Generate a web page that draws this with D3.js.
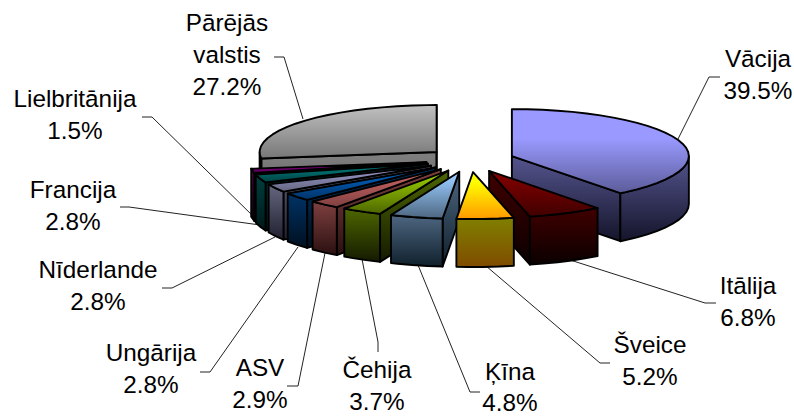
<!DOCTYPE html>
<html>
<head>
<meta charset="utf-8">
<script src="https://cdn.jsdelivr.net/npm/d3@7"></script>
<style>
  html, body { margin: 0; padding: 0; background: #fff; }
  svg { display: block; }
  text { font-family: "Liberation Sans", Arial, sans-serif; font-size: 24.3px; fill: #000; }
</style>
</head>
<body>
<div id="chart"></div>
<script>
var countries = ["Vācija", "Itālija", "Šveice", "Ķīna", "Čehija", "ASV", "Ungārija", "Nīderlande", "Francija", "Lielbritānija", "Pārējās valstis"];
var shares = [39.5, 6.8, 5.2, 4.8, 3.7, 2.9, 2.8, 2.8, 2.8, 1.5, 27.2];

// face colours: top face light -> dark, then side light -> dark
var topLight  = ["#9999ff", "#800000", "#ffff00", "#99ccff", "#99cc00", "#cc6666", "#0066cc", "#9999cc", "#008080", "#990099", "#bdbdbd"];
var topDark   = ["#5c5c99", "#400000", "#ff9900", "#4d6680", "#4d6600", "#804040", "#003366", "#666680", "#004040", "#4d004d", "#777777"];
var topHold   = [0.35, 0.1, 0.2, 0.1, 0.1, 0.1, 0.1, 0.1, 0.1, 0.1, 0.05];
var sideLight = ["#55558f", "#400000", "#808000", "#4d6680", "#4d6600", "#804040", "#003366", "#666680", "#004040", "#4d004d", "#808080"];
var sideDark  = ["#14142a", "#0a0000", "#804c00", "#10202c", "#141a00", "#2a1010", "#001020", "#202030", "#001818", "#100010", "#606060"];

// label layout, same order as countries
var labelX = [758, 748, 650, 510, 377, 260, 151, 98, 73, 75, 227];
var labelY = [67, 294, 353, 380, 378, 376, 361, 278, 198, 107, 31];
var rowGap = [32, 32, 32, 31, 32, 32, 32, 32, 32, 32, 32];
var leaders = [
    [[678, 139], [709, 77], [720, 77]],
    [[567, 259], [705, 303], [716, 303]],
    [[486, 266], [600, 363], [610, 363]],
    [[418, 265], [470, 392], [480, 392]],
    [[362, 259], [378, 342], [378, 352]],
    [[325, 253], [298, 386], [287, 386]],
    [[298, 247], [210, 372], [200, 372]],
    [[275, 237], [172, 288], [162, 288]],
    [[260, 225], [129, 207], [120, 207]],
    [[255, 218], [152, 117], [142, 117]],
    [[303, 119], [284, 57], [274, 57]]
];

var width = 794;
var height = 417;
var depth = 48;
var blowX = 0.25;
var blowY = 0.257;
var arcStep = Math.PI / 36;

var svg = d3.select("#chart").append("svg")
    .attr("width", width)
    .attr("height", height);

// unit circle to screen, flattened
var x_scale = d3.scaleLinear().domain([-1, 1]).range([293, 647]);
var y_scale = d3.scaleLinear().domain([-1, 1]).range([113, 207]);

var pie = d3.pie().sort(null).value(function(d) { return d; });
var slices = pie(shares).map(function(s, i) {
    s.i = i;
    s.mid = (s.startAngle + s.endAngle) / 2;
    s.ox = Math.sin(s.mid) * blowX;
    s.oy = -Math.cos(s.mid) * blowY;
    return s;
});

function point(s, a, drop) {
    return [x_scale(s.ox + Math.sin(a)), y_scale(s.oy - Math.cos(a)) + drop];
}
function apex(s, drop) {
    return [x_scale(s.ox), y_scale(s.oy) + drop];
}
function arcAngles(a0, a1) {
    var list = d3.range(a0, a1, arcStep);
    list.push(a1);
    return list;
}

var line = d3.line().curve(d3.curveLinearClosed);

var defs = svg.append("defs");
function gradient(id, stops) {
    var g = defs.append("linearGradient").attr("id", id)
        .attr("x1", 0).attr("y1", 0).attr("x2", 0).attr("y2", 1);
    stops.forEach(function(st) {
        g.append("stop").attr("offset", st[0]).attr("stop-color", st[1]);
    });
}
countries.forEach(function(c, i) {
    gradient("top" + i, [[0, topLight[i]], [topHold[i], topLight[i]], [1, topDark[i]]]);
    gradient("side" + i, [[0, sideLight[i]], [1, sideDark[i]]]);
});

// leader lines
svg.append("g").selectAll("path")
    .data(leaders)
    .enter().append("path")
    .attr("d", d3.line())
    .attr("fill", "none")
    .attr("stroke", "#222")
    .attr("stroke-width", 1);

function face(g, pts, fillId) {
    g.append("path")
        .attr("d", line(pts))
        .attr("fill", "url(#" + fillId + ")")
        .attr("stroke", "#000")
        .attr("stroke-width", 1.9)
        .attr("stroke-linejoin", "round");
}

// back slices first
var order = slices.slice().sort(function(a, b) {
    return d3.descending(Math.cos(a.mid), Math.cos(b.mid));
});

var pieGroup = svg.append("g");
order.forEach(function(s) {
    var g = pieGroup.append("g").attr("class", "slice");

    // cut faces
    [s.startAngle, s.endAngle].forEach(function(a, k) {
        var visible = k === 0 ? Math.sin(a) < 0 : Math.sin(a) > 0;
        if (!visible) return;
        face(g, [apex(s, 0), point(s, a, 0), point(s, a, depth), apex(s, depth)], "side" + s.i);
    });

    // outer wall, only the part that faces us
    var a0 = Math.max(s.startAngle, Math.PI / 2);
    var a1 = Math.min(s.endAngle, 3 * Math.PI / 2);
    if (a1 > a0) {
        var angles = arcAngles(a0, a1);
        var wall = angles.map(function(a) { return point(s, a, 0); })
            .concat(angles.slice().reverse().map(function(a) { return point(s, a, depth); }));
        face(g, wall, "side" + s.i);
    }

    // top face
    var rim = arcAngles(s.startAngle, s.endAngle).map(function(a) { return point(s, a, 0); });
    face(g, [apex(s, 0)].concat(rim), "top" + s.i);
});

// labels
var labels = svg.append("g").selectAll("text")
    .data(countries)
    .enter().append("text")
    .attr("text-anchor", "middle")
    .attr("x", function(d, i) { return labelX[i]; })
    .attr("y", function(d, i) { return labelY[i]; });

labels.each(function(d, i) {
    var rows = d.split(" ").concat([shares[i].toFixed(1) + "%"]);
    d3.select(this).selectAll("tspan")
        .data(rows)
        .enter().append("tspan")
        .attr("x", labelX[i])
        .attr("dy", function(r, k) { return k === 0 ? 0 : rowGap[i]; })
        .text(function(r) { return r; });
});
</script>
</body>
</html>
